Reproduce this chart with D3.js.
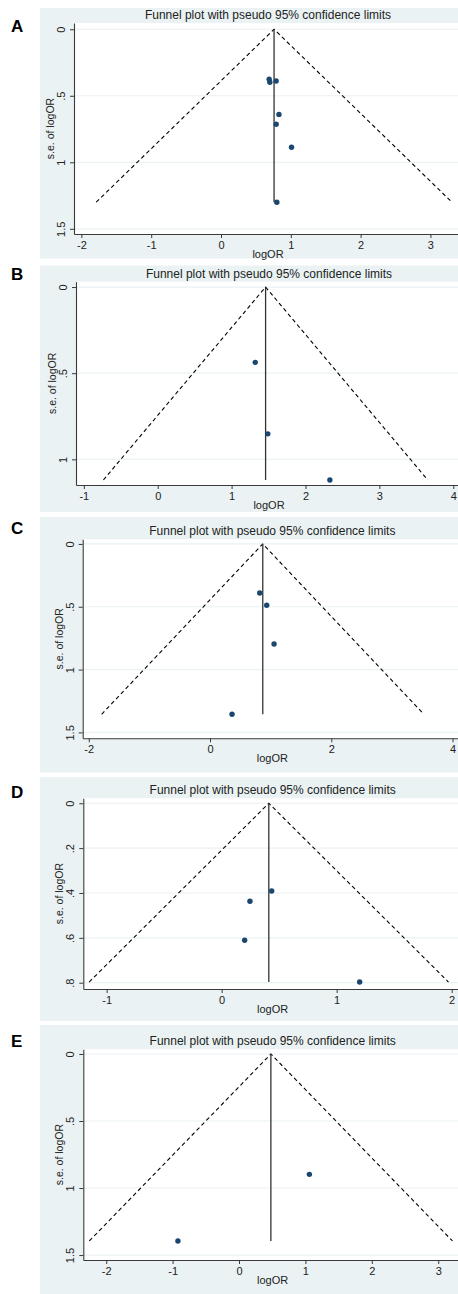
<!DOCTYPE html>
<html>
<head>
<meta charset="utf-8">
<script src="https://cdn.jsdelivr.net/npm/d3@7"></script>
<style>
  body { margin: 0; background: #fff; }
  svg { display: block; font-family: "Liberation Sans", Arial, sans-serif; }
</style>
</head>
<body>
<svg id="chart" width="458" height="1294"></svg>
<script>
// data
const panelLetters = ["A", "B", "C", "D", "E"];
const titleText = "Funnel plot with pseudo 95% confidence limits";
const xLabel = "logOR";
const yLabel = "s.e. of logOR";

const logOrA = [0.69, 0.70, 0.79, 0.83, 0.79, 1.01, 0.80];
const seA = [0.376, 0.398, 0.389, 0.64, 0.714, 0.887, 1.30];
const pooledA = 0.76;
const xTicksA = [-2, -1, 0, 1, 2, 3];
const yTicksA = [0, 0.5, 1, 1.5];
const yTickLabelsA = ["0", ".5", "1", "1.5"];

const logOrB = [1.32, 1.49, 2.33];
const seB = [0.437, 0.852, 1.12];
const pooledB = 1.46;
const xTicksB = [-1, 0, 1, 2, 3, 4];
const yTicksB = [0, 0.5, 1];
const yTickLabelsB = ["0", ".5", "1"];

const logOrC = [0.82, 0.935, 1.056, 0.363];
const seC = [0.39, 0.488, 0.796, 1.356];
const pooledC = 0.87;
const xTicksC = [-2, 0, 2, 4];
const yTicksC = [0, 0.5, 1, 1.5];
const yTickLabelsC = ["0", ".5", "1", "1.5"];

const logOrD = [0.435, 0.246, 0.20, 1.20];
const seD = [0.391, 0.437, 0.611, 0.797];
const pooledD = 0.41;
const xTicksD = [-1, 0, 1, 2];
const yTicksD = [0, 0.2, 0.4, 0.6, 0.8];
const yTickLabelsD = ["0", ".2", ".4", ".6", ".8"];

const logOrE = [1.06, -0.92];
const seE = [0.898, 1.395];
const pooledE = 0.48;
const xTicksE = [-2, -1, 0, 1, 2, 3];
const yTicksE = [0, 0.5, 1, 1.5];
const yTickLabelsE = ["0", ".5", "1", "1.5"];

// visible axis ranges of each plot
const xDomains = [[-2.106, 3.395], [-1.106, 4.064], [-2.10, 4.09], [-1.203, 2.055], [-2.345, 3.298]];
const yDomains = [[-0.047, 1.539], [-0.031, 1.149], [-0.037, 1.547], [-0.022, 0.828], [-0.035, 1.537]];

// page layout (pixels)
const layout = [
  { bgTop: 8, bgBottom: 258.5, left: 74, top: 23, bottom: 234, letterY: 32 },
  { bgTop: 265.5, bgBottom: 512, left: 76, top: 281.7, bottom: 485, letterY: 280 },
  { bgTop: 517, bgBottom: 772.5, left: 82.7, top: 539.3, bottom: 738.3, letterY: 533.5 },
  { bgTop: 777.3, bgBottom: 1021, left: 83.3, top: 798.3, bottom: 989, letterY: 798 },
  { bgTop: 1025, bgBottom: 1294, left: 83.3, top: 1049.3, bottom: 1260, letterY: 1047 }
];

const panels = [
  { x: logOrA, se: seA, pooled: pooledA, xTicks: xTicksA, yTicks: yTicksA, yLabels: yTickLabelsA },
  { x: logOrB, se: seB, pooled: pooledB, xTicks: xTicksB, yTicks: yTicksB, yLabels: yTickLabelsB },
  { x: logOrC, se: seC, pooled: pooledC, xTicks: xTicksC, yTicks: yTicksC, yLabels: yTickLabelsC },
  { x: logOrD, se: seD, pooled: pooledD, xTicks: xTicksD, yTicks: yTicksD, yLabels: yTickLabelsD },
  { x: logOrE, se: seE, pooled: pooledE, xTicks: xTicksE, yTicks: yTicksE, yLabels: yTickLabelsE }
];

const W = 458;
const bgColor = "#eaf2f3";
const dotColor = "#1a476f";
const axisColor = "#3a3a3a";
const textColor = "#222";

const svg = d3.select("#chart");

panels.forEach((p, i) => {
  const L = layout[i];
  const right = W;
  const x = d3.scaleLinear().domain(xDomains[i]).range([L.left, right]);
  const y = d3.scaleLinear().domain(yDomains[i]).range([L.top, L.bottom]);
  const g = svg.append("g");

  // graph region
  g.append("rect")
    .attr("x", 40).attr("y", L.bgTop)
    .attr("width", W - 40).attr("height", L.bgBottom - L.bgTop)
    .attr("fill", bgColor);

  // plot region
  g.append("rect")
    .attr("x", L.left).attr("y", L.top)
    .attr("width", right - L.left).attr("height", L.bottom - L.top)
    .attr("fill", "#fff");

  // horizontal grid
  g.selectAll(".grid")
    .data(p.yTicks)
    .join("line")
    .attr("x1", L.left).attr("x2", right)
    .attr("y1", d => y(d)).attr("y2", d => y(d))
    .attr("stroke", bgColor).attr("stroke-width", 1.2);

  // pseudo 95% limits
  const maxSe = d3.max(p.se);
  const funnel = [
    [p.pooled - 1.96 * maxSe, maxSe],
    [p.pooled, 0],
    [p.pooled + 1.96 * maxSe, maxSe]
  ];
  g.append("path")
    .attr("d", d3.line().x(d => x(d[0])).y(d => y(d[1]))(funnel))
    .attr("fill", "none")
    .attr("stroke", "#000")
    .attr("stroke-width", 1.1)
    .attr("stroke-dasharray", "4,3");

  // pooled estimate line
  g.append("line")
    .attr("x1", x(p.pooled)).attr("x2", x(p.pooled))
    .attr("y1", y(0)).attr("y2", y(maxSe))
    .attr("stroke", "#333").attr("stroke-width", 1.3);

  // studies
  g.selectAll(".dot")
    .data(p.x.map((v, k) => ({ lor: v, se: p.se[k] })))
    .join("circle")
    .attr("cx", d => x(d.lor))
    .attr("cy", d => y(d.se))
    .attr("r", 2.7)
    .attr("fill", dotColor);

  // axes
  const xAxis = g.append("g")
    .attr("transform", `translate(0,${L.bottom})`)
    .call(d3.axisBottom(x).tickValues(p.xTicks).tickSize(4).tickSizeOuter(0).tickPadding(3)
      .tickFormat(d => String(d)));
  xAxis.selectAll("text").attr("font-size", 11).attr("fill", textColor).attr("font-family", null);

  const yAxis = g.append("g")
    .attr("transform", `translate(${L.left},0)`)
    .call(d3.axisLeft(y).tickValues(p.yTicks).tickSize(4).tickSizeOuter(0)
      .tickFormat((d, k) => p.yLabels[k]));
  yAxis.selectAll("text")
    .attr("transform", "rotate(-90)")
    .attr("x", 0).attr("y", -9).attr("dy", 0)
    .attr("text-anchor", "middle")
    .attr("font-size", 11).attr("fill", textColor).attr("font-family", null);

  [xAxis, yAxis].forEach(a => {
    a.select(".domain").attr("stroke", axisColor).attr("stroke-width", 1.1);
    a.selectAll(".tick line").attr("stroke", axisColor);
  });

  const cx = (L.left + right + 4) / 2;

  g.append("text")
    .attr("x", cx).attr("y", L.top - 4)
    .attr("text-anchor", "middle")
    .attr("font-size", 12).attr("fill", textColor)
    .text(titleText);

  g.append("text")
    .attr("x", cx).attr("y", L.bottom + 24)
    .attr("text-anchor", "middle")
    .attr("font-size", 11).attr("fill", textColor)
    .text(xLabel);

  g.append("text")
    .attr("transform", `translate(${L.left - 20},${(L.top + L.bottom) / 2}) rotate(-90)`)
    .attr("text-anchor", "middle")
    .attr("font-size", 10.5).attr("fill", textColor)
    .text(yLabel);

  svg.append("text")
    .attr("x", 11).attr("y", L.letterY)
    .attr("font-size", 17).attr("font-weight", "bold").attr("fill", "#000")
    .text(panelLetters[i]);
});
</script>
</body>
</html>
